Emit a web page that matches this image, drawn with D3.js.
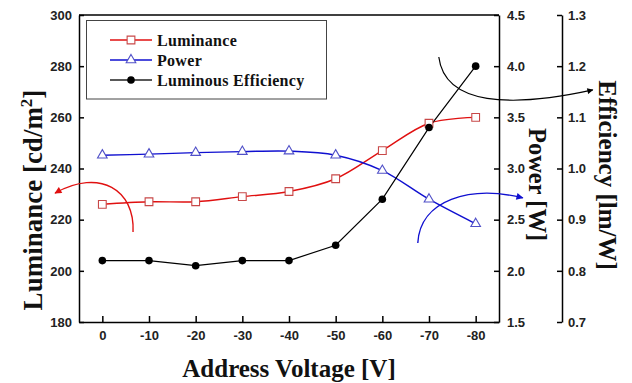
<!DOCTYPE html>
<html>
<head>
<meta charset="utf-8">
<script src="https://cdn.jsdelivr.net/npm/d3@7"></script>
<style>
  body { margin: 0; background: #fff; }
  .tick text { font-family: Arial, "Liberation Sans", sans-serif; font-weight: bold; font-size: 13px; fill: #222; }
  .axis path, .axis line { stroke: #000; stroke-width: 1.5px; }
  .title { font-family: "Times New Roman", "Liberation Serif", serif; font-weight: bold; fill: #111; }
  .legend-text { font-family: "Times New Roman", "Liberation Serif", serif; font-weight: bold; font-size: 16px; fill: #111; letter-spacing: 0.3px; }
</style>
</head>
<body>
<div id="plot"></div>
<script>
const CANVAS_WIDTH  = 632;
const CANVAS_HEIGHT = 383;

const PLOT_LEFT   = 79;
const PLOT_RIGHT  = 499;
const PLOT_TOP    = 15;
const PLOT_BOTTOM = 322;
const EFF_AXIS_X  = 562;

// data
const voltages   = [0, -10, -20, -30, -40, -50, -60, -70, -80];
const luminance  = [226, 227, 227, 229, 231, 236, 247, 257.7, 260];
const power      = [3.13, 3.14, 3.155, 3.165, 3.17, 3.13, 2.98, 2.70, 2.46];
const efficiency = [0.82, 0.82, 0.81, 0.82, 0.82, 0.85, 0.94, 1.08, 1.20];

const xTicks   = [0, -10, -20, -30, -40, -50, -60, -70, -80];
const lumTicks = [180, 200, 220, 240, 260, 280, 300];
const powTicks = [1.5, 2.0, 2.5, 3.0, 3.5, 4.0, 4.5];
const effTicks = [0.7, 0.8, 0.9, 1.0, 1.1, 1.2, 1.3];

// curved arrows, in (voltage, luminance) units
const arrowRed   = [[-6.58, 215.2], [-7.0, 231.6], [0.49, 240.2], [10.13, 230.4]];
const arrowBlue  = [[-67.6, 210.9], [-68.1, 227.7], [-78.8, 233.6], [-90.1, 228.5]];
const arrowBlack = [[-72.1, 283.6], [-73.4, 264.8], [-87.4, 263.6], [-105.1, 270.7]];

var svg = d3.select("#plot")
            .append("svg")
            .attr("width", CANVAS_WIDTH)
            .attr("height", CANVAS_HEIGHT);

var xScale = d3.scaleLinear().domain([5, -85]).range([PLOT_LEFT, PLOT_RIGHT]);
var yLum   = d3.scaleLinear().domain([180, 300]).range([PLOT_BOTTOM, PLOT_TOP]);
var yPow   = d3.scaleLinear().domain([1.5, 4.5]).range([PLOT_BOTTOM, PLOT_TOP]);
var yEff   = d3.scaleLinear().domain([0.7, 1.3]).range([PLOT_BOTTOM, PLOT_TOP]);

// arrow heads
var defs = svg.append("defs");
[["red", "#e01010"], ["blue", "#1010d0"], ["black", "#000"]].forEach(function(m) {
    defs.append("marker")
        .attr("id", "arrow-" + m[0])
        .attr("viewBox", "0 0 10 10")
        .attr("refX", 9).attr("refY", 5)
        .attr("markerWidth", 6).attr("markerHeight", 5)
        .attr("orient", "auto")
        .append("path")
        .attr("d", "M0,0 L10,5 L0,10 z")
        .attr("fill", m[1]);
});

// axes (plain hyphen for negatives, as in the original)
svg.append("g").attr("class", "axis")
   .attr("transform", "translate(" + PLOT_LEFT + ",0)")
   .call(d3.axisLeft(yLum).tickValues(lumTicks).tickSize(-5).tickSizeOuter(0).tickPadding(7));

svg.append("g").attr("class", "axis")
   .attr("transform", "translate(0," + PLOT_BOTTOM + ")")
   .call(d3.axisBottom(xScale).tickValues(xTicks).tickFormat(d => String(d))
           .tickSize(-6).tickSizeOuter(0).tickPadding(9));

svg.append("g").attr("class", "axis")
   .attr("transform", "translate(" + PLOT_RIGHT + ",0)")
   .call(d3.axisRight(yPow).tickValues(powTicks).tickFormat(d3.format(".1f")).tickSize(-5).tickSizeOuter(0).tickPadding(8));

svg.append("g").attr("class", "axis")
   .attr("transform", "translate(" + EFF_AXIS_X + ",0)")
   .call(d3.axisRight(yEff).tickValues(effTicks).tickFormat(d3.format(".1f")).tickSize(-5).tickSizeOuter(0).tickPadding(6));

// top frame line
svg.append("line")
   .attr("x1", PLOT_LEFT).attr("x2", PLOT_RIGHT)
   .attr("y1", PLOT_TOP).attr("y2", PLOT_TOP)
   .attr("stroke", "#000").attr("stroke-width", 1.5);

// series lines
var lumLine = d3.line().x((d, i) => xScale(voltages[i])).y(d => yLum(d)).curve(d3.curveCatmullRom);
var powLine = d3.line().x((d, i) => xScale(voltages[i])).y(d => yPow(d)).curve(d3.curveCatmullRom);
var effLine = d3.line().x((d, i) => xScale(voltages[i])).y(d => yEff(d));

svg.append("path").attr("d", lumLine(luminance)).attr("fill", "none").attr("stroke", "#e01010").attr("stroke-width", 1.4);
svg.append("path").attr("d", powLine(power)).attr("fill", "none").attr("stroke", "#1010d0").attr("stroke-width", 1.4);
svg.append("path").attr("d", effLine(efficiency)).attr("fill", "none").attr("stroke", "#000").attr("stroke-width", 1.2);

// markers
var sq = d3.symbol().type(d3.symbolSquare).size(60);
var tri = d3.symbol().type(d3.symbolTriangle).size(40);

svg.selectAll(".lum-pt").data(luminance).enter().append("path")
   .attr("class", "lum-pt")
   .attr("d", sq)
   .attr("transform", (d, i) => "translate(" + xScale(voltages[i]) + "," + yLum(d) + ")")
   .attr("fill", "#fff").attr("stroke", "#c84848").attr("stroke-width", 1.1);

svg.selectAll(".pow-pt").data(power).enter().append("path")
   .attr("class", "pow-pt")
   .attr("d", tri)
   .attr("transform", (d, i) => "translate(" + xScale(voltages[i]) + "," + yPow(d) + ")")
   .attr("fill", "#fff").attr("stroke", "#5050c8").attr("stroke-width", 1.1);

svg.selectAll(".eff-pt").data(efficiency).enter().append("circle")
   .attr("class", "eff-pt")
   .attr("cx", (d, i) => xScale(voltages[i]))
   .attr("cy", d => yEff(d))
   .attr("r", 3.8)
   .attr("fill", "#000");

// curved arrows
function bezier(p) {
    var q = p.map(d => [xScale(d[0]), yLum(d[1])]);
    return "M" + q[0] + " C" + q[1] + " " + q[2] + " " + q[3];
}
svg.append("path").attr("d", bezier(arrowRed)).attr("fill", "none")
   .attr("stroke", "#e01010").attr("stroke-width", 1.4).attr("marker-end", "url(#arrow-red)");
svg.append("path").attr("d", bezier(arrowBlue)).attr("fill", "none")
   .attr("stroke", "#1010d0").attr("stroke-width", 1.4).attr("marker-end", "url(#arrow-blue)");
svg.append("path").attr("d", bezier(arrowBlack)).attr("fill", "none")
   .attr("stroke", "#000").attr("stroke-width", 1.2).attr("marker-end", "url(#arrow-black)");

// legend
var legendItems = [
    {name: "Luminance", color: "#e01010", mark: "square", stroke: "#c84848"},
    {name: "Power", color: "#1010d0", mark: "triangle", stroke: "#5050c8"},
    {name: "Luminous Efficiency", color: "#222", mark: "circle", stroke: "#000"}
];
svg.append("rect")
   .attr("x", 86.5).attr("y", 20.5)
   .attr("width", 240).attr("height", 78.5)
   .attr("fill", "#fff").attr("stroke", "#444").attr("stroke-width", 1);

legendItems.forEach(function(item, i) {
    var y = 40 + i * 20;
    svg.append("line")
       .attr("x1", 110).attr("x2", 152).attr("y1", y).attr("y2", y)
       .attr("stroke", item.color).attr("stroke-width", 1.4);
    if (item.mark === "circle") {
        svg.append("circle").attr("cx", 131).attr("cy", y).attr("r", 3.8).attr("fill", "#000");
    } else {
        svg.append("path")
           .attr("d", item.mark === "square" ? sq() : tri())
           .attr("transform", "translate(131," + y + ")")
           .attr("fill", "#fff").attr("stroke", item.stroke).attr("stroke-width", 1.1);
    }
    svg.append("text")
       .attr("class", "legend-text")
       .attr("x", 157).attr("y", y + 5.5)
       .text(item.name);
});

// axis titles
var lumTitle = svg.append("text")
   .attr("class", "title")
   .attr("text-anchor", "middle")
   .attr("transform", "translate(42,200) rotate(-90)")
   .style("font-size", "27px");
lumTitle.append("tspan").text("Luminance [cd/m");
lumTitle.append("tspan").attr("dy", -10).style("font-size", "17px").text("2");
lumTitle.append("tspan").attr("dy", 10).text("]");

svg.append("text")
   .attr("class", "title")
   .attr("text-anchor", "middle")
   .attr("x", 289).attr("y", 377)
   .style("font-size", "25px")
   .text("Address Voltage [V]");

svg.append("text")
   .attr("class", "title")
   .attr("text-anchor", "middle")
   .attr("transform", "translate(529,184.5) rotate(90)")
   .style("font-size", "24.5px")
   .text("Power [W]");

svg.append("text")
   .attr("class", "title")
   .attr("text-anchor", "middle")
   .attr("transform", "translate(599,175) rotate(90)")
   .style("font-size", "25px")
   .text("Efficiency [lm/W]");
</script>
</body>
</html>
